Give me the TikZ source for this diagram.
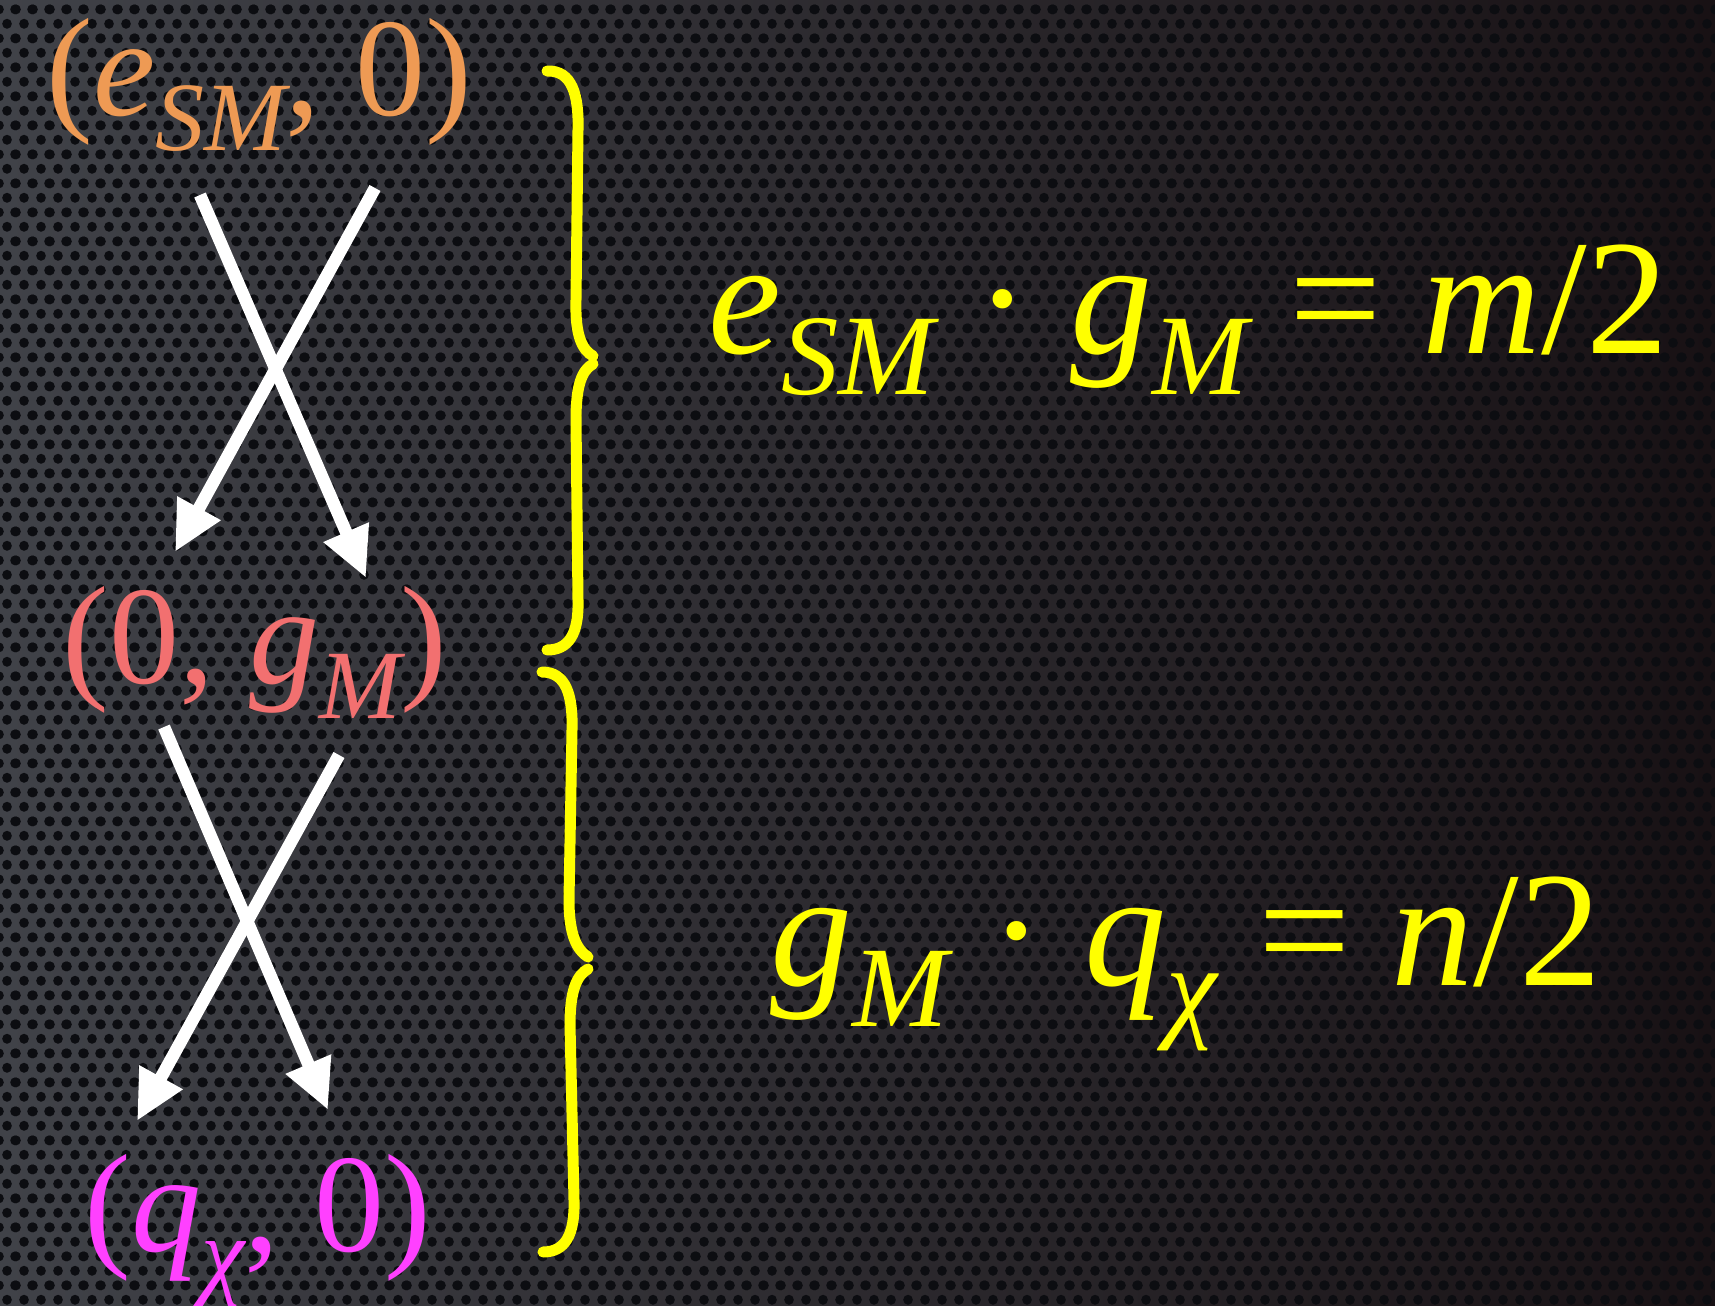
\documentclass[tikz,border=0pt]{standalone}
\usepackage{fontspec}
\setmainfont{Liberation Serif}
\usetikzlibrary{arrows.meta,patterns}

\definecolor{bgleft}{RGB}{64,66,72}
\definecolor{bgright}{RGB}{24,17,20}
\definecolor{holecol}{RGB}{12,13,17}
\definecolor{esmcol}{RGB}{238,154,84}
\definecolor{gmcol}{RGB}{242,112,112}
\definecolor{qchicol}{RGB}{255,64,255}
\definecolor{eqcol}{RGB}{255,255,0}

% lowered subscript, 70% of the running size
\makeatletter
\newcommand\ssub[1]{\raisebox{-0.25em}{\fontsize{\fpeval{0.7*\f@size}}{0}\selectfont\itshape #1}}
\makeatother

% perforated metal background
\pgfdeclarepatternformonly{hexholes}{\pgfpointorigin}{\pgfqpoint{8.5pt}{14.7pt}}{\pgfqpoint{8.5pt}{14.7pt}}{
  \pgfpathcircle{\pgfqpoint{4.25pt}{3.675pt}}{2.55pt}
  \pgfpathcircle{\pgfqpoint{0pt}{11.025pt}}{2.55pt}
  \pgfpathcircle{\pgfqpoint{8.5pt}{11.025pt}}{2.55pt}
  \pgfusepath{fill}}

\begin{document}
\begin{tikzpicture}[x=0.5pt,y=-0.5pt,
  lbl/.style={anchor=base west,inner sep=0pt,font=\fontsize{70}{84}\selectfont},
  eqn/.style={anchor=base west,inner sep=0pt,text=eqcol,font=\fontsize{82}{98}\selectfont},
  arr/.style={white,line width=6.25pt,-{Triangle[length=25pt,width=23pt]}},
  brc/.style={eqcol,line width=5.5pt,line cap=round}]
\useasboundingbox (0,0) rectangle (1715,1306);
\shade[left color=bgleft,right color=bgright] (0,0) rectangle (1715,1306);
\fill[pattern=hexholes,pattern color=holecol] (0,0) rectangle (1715,1306);

% charge pairs
\node[lbl,text=esmcol]  (esm)  at (46,115)  {(\textit{e}\ssub{SM}, 0)};
\node[lbl,text=gmcol]   (gm)   at (62,683)  {(0, \textit{g}\ssub{M})};
\node[lbl,text=qchicol] (qchi) at (84,1251) {(\textit{q}\ssub{χ}, 0)};

% quantisation conditions
\node[eqn] (eqone) at (708,353) {\textit{e}\ssub{SM} · \textit{g}\ssub{M} = \textit{m}/2};
\node[eqn] (eqtwo) at (770,985) {\textit{g}\ssub{M} · \textit{q}\ssub{χ} = \textit{n}/2};

\coordinate (esm-l)   at (200,195);
\coordinate (esm-r)   at (375,188);
\coordinate (gm-l-in) at (175,552);
\coordinate (gm-r-in) at (366,578);
\coordinate (gm-l)    at (164,727);
\coordinate (gm-r)    at (339,755);
\coordinate (qchi-l)  at (137,1121);
\coordinate (qchi-r)  at (328,1110);

\draw[arr] (esm-l) -- (gm-r-in);
\draw[arr] (esm-r) -- (gm-l-in);
\draw[arr] (gm-l)  -- (qchi-r);
\draw[arr] (gm-r)  -- (qchi-l);

% braces
\draw[brc] (547,71) .. controls (572,70) and (579,95) .. (578,130) -- (576,300) .. controls (575,335) and (582,350) .. (593,356);
\draw[brc] (593,364) .. controls (582,370) and (576,385) .. (576,420) -- (578,600) .. controls (579,635) and (568,650) .. (547,650);
\draw[brc] (542,672) .. controls (566,672) and (573,695) .. (572,730) -- (569,900) .. controls (569,935) and (577,950) .. (588,957);
\draw[brc] (588,969) .. controls (577,975) and (570,990) .. (570,1025) -- (574,1200) .. controls (575,1235) and (565,1252) .. (543,1252);
\end{tikzpicture}
\end{document}
